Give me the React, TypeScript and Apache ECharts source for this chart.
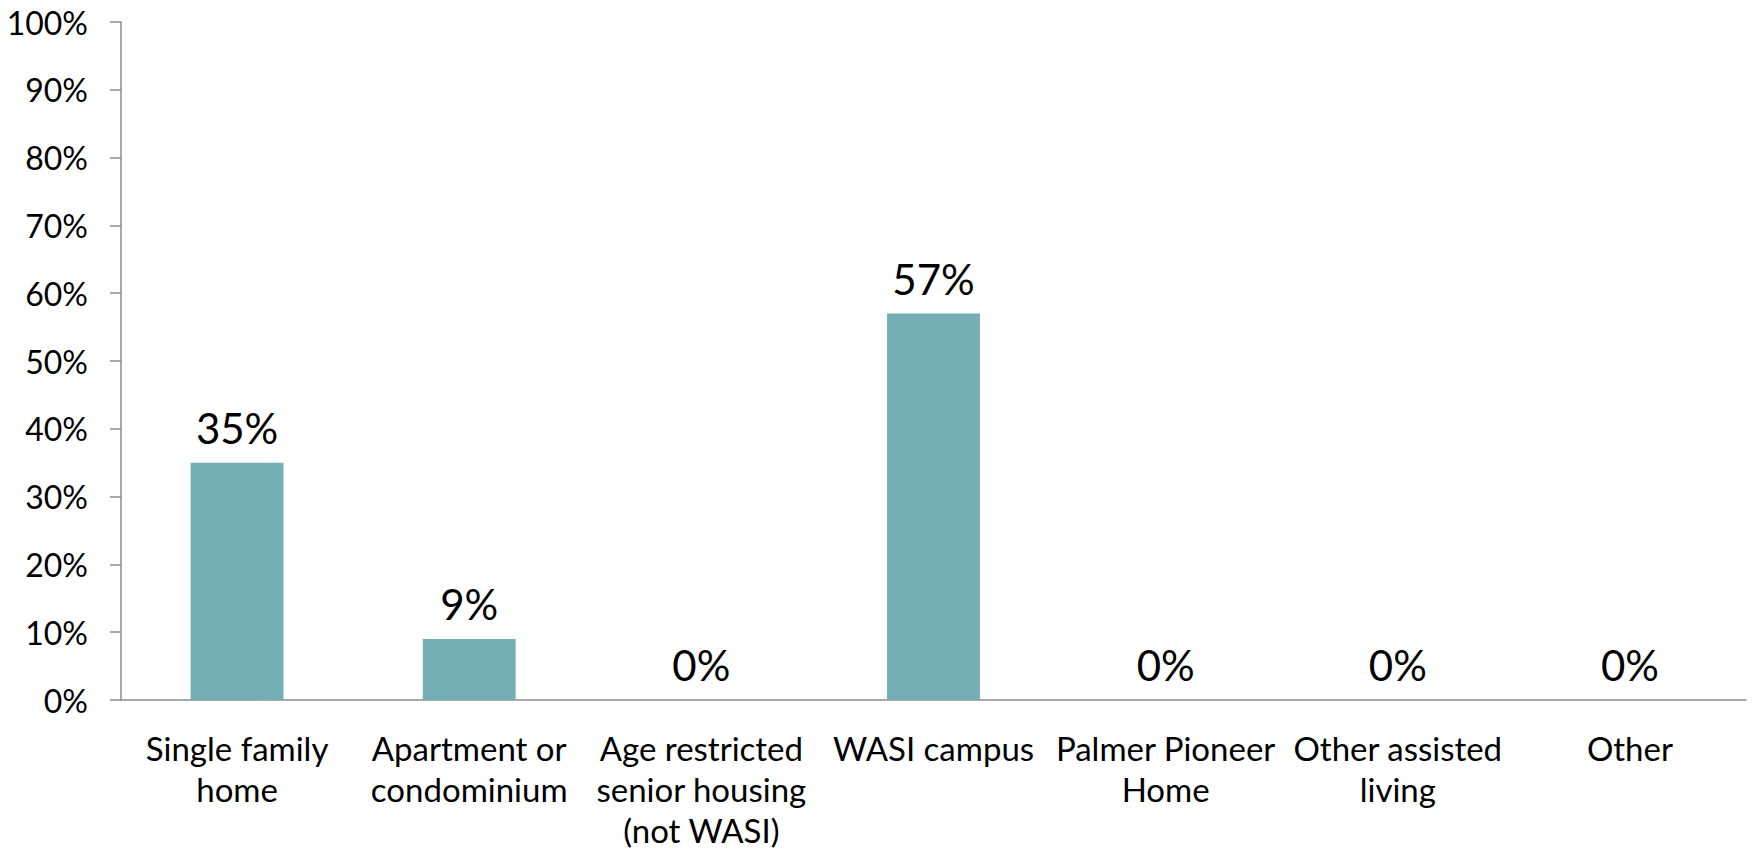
import React, { useEffect, useRef } from "react";
import * as echarts from "echarts";

const categories = [
  "Single family\nhome",
  "Apartment or\ncondominium",
  "Age restricted\nsenior housing\n(not WASI)",
  "WASI campus",
  "Palmer Pioneer\nHome",
  "Other assisted\nliving",
  "Other",
];
const values = [35, 9, 0, 57, 0, 0, 0];
const yMin = 0;
const yMax = 100;
const yInterval = 10;

const FONT = "Lato, 'Open Sans', sans-serif";

export default function App() {
  const ref = useRef<HTMLDivElement>(null);
  useEffect(() => {
    document.body.style.margin = "0";
    const chart = echarts.init(ref.current!, undefined, { renderer: "svg" });
    chart.setOption({
      animation: false,
      textStyle: { fontFamily: FONT },
      grid: { left: 121, right: 6, top: 22, bottom: 154, containLabel: false },
      xAxis: {
        type: "category",
        data: categories,
        axisLine: { lineStyle: { color: "#8c8c8c", width: 1.5 } },
        axisTick: { length: 11, lineStyle: { color: "#8c8c8c", width: 1.5 } },
        axisLabel: {
          interval: 0,
          color: "#000",
          fontSize: 33,
          fontFamily: FONT,
          lineHeight: 41,
          margin: 27,
        },
      },
      yAxis: {
        type: "value",
        min: yMin,
        max: yMax,
        interval: yInterval,
        splitLine: { show: false },
        axisLine: { show: true, lineStyle: { color: "#8c8c8c", width: 1.5 } },
        axisTick: { show: true, length: 11, lineStyle: { color: "#8c8c8c", width: 1.5 } },
        axisLabel: {
          color: "#000",
          fontSize: 32,
          fontFamily: FONT,
          margin: 33,
          formatter: "{value}%",
        },
      },
      series: [
        {
          type: "bar",
          data: values,
          barWidth: "40%",
          itemStyle: { color: "#74afb6" },
          label: {
            show: true,
            position: "top",
            distance: 14,
            color: "#000",
            fontSize: 42,
            fontFamily: FONT,
            formatter: "{c}%",
          },
        },
      ],
    });
    return () => chart.dispose();
  }, []);
  return <div ref={ref} style={{ width: 1752, height: 854 }} />;
}
